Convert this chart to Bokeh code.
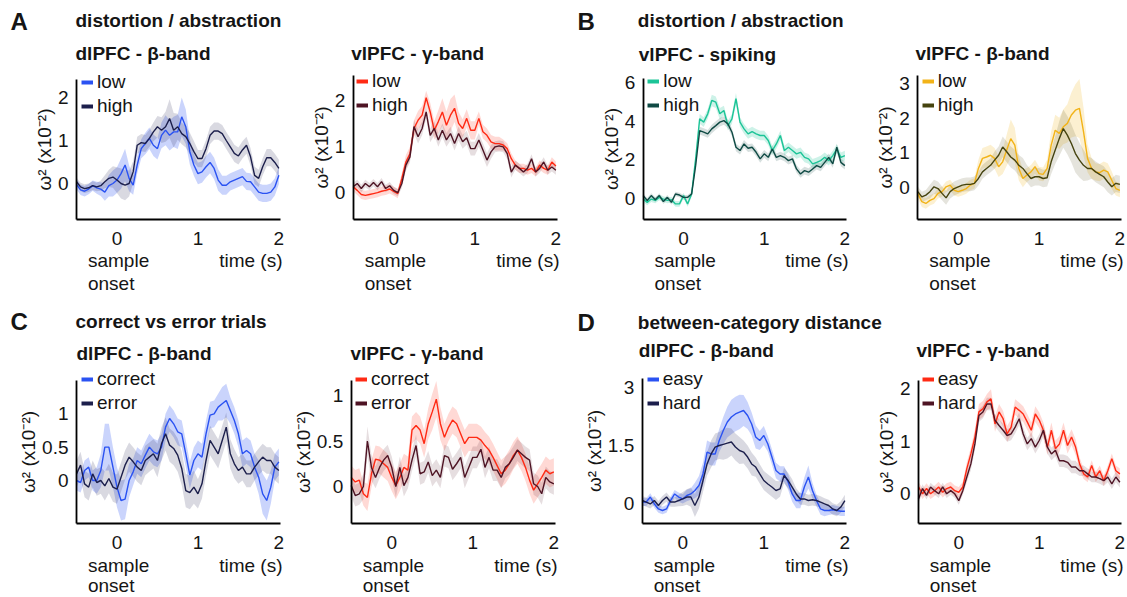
import numpy as np
from bokeh.plotting import figure
from bokeh.models import Range1d, FixedTicker, Label, Legend, LegendItem, ColumnDataSource
from bokeh.layouts import row, column
from bokeh.embed import file_html
from bokeh.resources import INLINE

FONT = "Liberation Sans"

# ---------------- data (time grid in s, omega^2 in units of 1e-2) ----------------
T = [round(-0.5 + 0.05 * i, 2) for i in range(51)]
XTICKS = [0, 1, 2]
XTICK_LABELS = ["0", "1", "2"]

A1_low = [-0.02, -0.15, -0.18, -0.13, -0.05, -0.10, -0.13, -0.20, -0.05, 0.00,
          0.08, 0.23, 0.43, 0.12, -0.04, 0.43, 0.81, 0.93, 1.05, 0.89,
          0.81, 1.12, 1.24, 1.12, 1.20, 1.20, 1.55, 1.32, 0.74, 0.43,
          0.23, 0.27, 0.39, 0.49, 0.35, 0.08, -0.04, -0.04, 0.04, 0.08,
          0.12, 0.16, 0.05, 0.04, -0.08, -0.20, -0.23, -0.23, -0.20, -0.08,
          0.19]
A1_low_err = [0.12, 0.12, 0.12, 0.12, 0.12, 0.14, 0.16, 0.20, 0.25, 0.30,
              0.30, 0.35, 0.38, 0.30, 0.22, 0.20, 0.22, 0.25, 0.25, 0.25,
              0.25, 0.30, 0.35, 0.35, 0.35, 0.40, 0.45, 0.40, 0.30, 0.25,
              0.25, 0.25, 0.25, 0.25, 0.25, 0.25, 0.22, 0.22, 0.20, 0.20,
              0.20, 0.20, 0.20, 0.20, 0.20, 0.20, 0.20, 0.20, 0.20, 0.20,
              0.20]
A1_high = [0.04, -0.08, -0.12, -0.10, -0.05, -0.08, -0.05, 0.04, 0.12, 0.15,
           0.08, 0.00, -0.04, 0.00, 0.27, 0.89, 0.95, 0.93, 1.05, 1.20,
           1.32, 1.24, 1.32, 1.51, 1.24, 1.32, 1.16, 1.09, 0.93, 0.74,
           0.58, 0.58, 0.81, 1.12, 1.22, 1.22, 1.16, 1.00, 0.85, 0.70,
           0.64, 0.78, 0.89, 0.62, 0.19, 0.12, 0.39, 0.60, 0.60, 0.49,
           0.35]
A1_high_err = [0.10, 0.10, 0.10, 0.10, 0.10, 0.10, 0.12, 0.15, 0.20, 0.25,
               0.30, 0.35, 0.35, 0.30, 0.25, 0.20, 0.20, 0.20, 0.20, 0.22,
               0.25, 0.30, 0.35, 0.45, 0.40, 0.30, 0.25, 0.25, 0.25, 0.25,
               0.20, 0.20, 0.20, 0.20, 0.20, 0.20, 0.20, 0.20, 0.20, 0.20,
               0.20, 0.20, 0.20, 0.20, 0.20, 0.20, 0.20, 0.20, 0.20, 0.20,
               0.20]

A2_low = [0.12, 0.04, -0.05, -0.07, -0.05, -0.03, -0.01, 0.02, 0.04, 0.07,
          0.02, -0.03, 0.30, 0.66, 0.84, 1.39, 1.57, 1.68, 2.06, 1.75,
          1.35, 1.54, 1.75, 1.46, 1.68, 1.83, 1.50, 1.39, 1.61, 1.35,
          1.35, 1.61, 1.32, 1.24, 1.10, 1.06, 1.06, 1.03, 0.95, 0.73,
          0.59, 0.52, 0.52, 0.48, 0.52, 0.44, 0.59, 0.52, 0.48, 0.66,
          0.57]
A2_low_err = [0.10, 0.10, 0.10, 0.10, 0.10, 0.10, 0.10, 0.10, 0.10, 0.10,
              0.10, 0.10, 0.12, 0.15, 0.15, 0.18, 0.20, 0.20, 0.15, 0.20,
              0.20, 0.25, 0.30, 0.30, 0.35, 0.30, 0.25, 0.20, 0.20, 0.20,
              0.20, 0.15, 0.15, 0.15, 0.15, 0.15, 0.15, 0.12, 0.12, 0.12,
              0.10, 0.10, 0.10, 0.10, 0.10, 0.10, 0.10, 0.10, 0.10, 0.10,
              0.10]
A2_high = [0.12, 0.19, 0.08, 0.19, 0.12, 0.21, 0.12, 0.23, 0.08, 0.14,
           0.04, -0.01, 0.19, 0.59, 0.77, 1.43, 1.21, 1.39, 1.75, 1.24,
           1.39, 1.14, 1.35, 1.14, 1.28, 1.06, 1.28, 1.10, 1.19, 0.95,
           0.95, 1.14, 0.92, 0.70, 0.88, 0.99, 1.01, 0.99, 0.84, 0.44,
           0.59, 0.52, 0.44, 0.52, 0.73, 0.44, 0.52, 0.66, 0.48, 0.55,
           0.48]
A2_high_err = [0.08, 0.08, 0.08, 0.08, 0.08, 0.08, 0.08, 0.08, 0.08, 0.08,
               0.08, 0.08, 0.10, 0.12, 0.12, 0.15, 0.15, 0.15, 0.15, 0.15,
               0.15, 0.15, 0.15, 0.15, 0.15, 0.15, 0.15, 0.15, 0.15, 0.15,
               0.15, 0.15, 0.15, 0.15, 0.15, 0.12, 0.12, 0.12, 0.12, 0.12,
               0.10, 0.10, 0.10, 0.10, 0.10, 0.10, 0.10, 0.10, 0.10, 0.10,
               0.10]

B1_low = [-0.03, -0.20, -0.03, -0.10, 0.06, -0.03, -0.10, -0.06, -0.28, -0.28,
          0.15, -0.28, 0.23, 2.05, 4.12, 3.95, 4.38, 5.07, 4.98, 4.38,
          4.55, 3.77, 4.12, 5.16, 3.95, 3.60, 3.34, 3.46, 3.34, 3.26,
          3.26, 3.00, 2.48, 2.82, 3.26, 2.48, 2.65, 2.48, 2.31, 2.39,
          2.13, 2.05, 1.79, 1.87, 1.96, 2.13, 1.96, 2.22, 2.56, 2.13,
          2.22]
B1_low_err = [0.15, 0.15, 0.15, 0.15, 0.15, 0.15, 0.15, 0.15, 0.15, 0.15,
              0.15, 0.15, 0.15, 0.20, 0.25, 0.25, 0.25, 0.30, 0.30, 0.30,
              0.25, 0.25, 0.25, 0.30, 0.25, 0.25, 0.25, 0.25, 0.25, 0.25,
              0.25, 0.25, 0.25, 0.25, 0.25, 0.25, 0.25, 0.25, 0.25, 0.25,
              0.25, 0.25, 0.25, 0.25, 0.25, 0.25, 0.25, 0.25, 0.25, 0.25,
              0.25]
B1_high = [0.15, -0.10, 0.15, -0.06, 0.15, -0.16, 0.06, -0.20, 0.23, 0.18,
           0.06, 0.06, 0.23, 1.70, 3.51, 3.43, 3.34, 3.60, 3.77, 3.95,
           4.03, 3.86, 3.43, 2.65, 2.48, 2.82, 2.60, 2.65, 2.39, 2.05,
           2.31, 2.13, 2.56, 2.13, 2.22, 2.13, 1.96, 2.05, 1.53, 1.27,
           1.44, 1.36, 1.53, 1.70, 1.61, 1.87, 2.13, 1.79, 2.65, 1.87,
           1.70]
B1_high_err = [0.12, 0.12, 0.12, 0.12, 0.12, 0.12, 0.12, 0.12, 0.12, 0.12,
               0.12, 0.12, 0.12, 0.18, 0.20, 0.20, 0.20, 0.22, 0.22, 0.22,
               0.22, 0.22, 0.20, 0.20, 0.20, 0.20, 0.20, 0.20, 0.20, 0.20,
               0.20, 0.20, 0.20, 0.20, 0.20, 0.20, 0.20, 0.20, 0.20, 0.20,
               0.20, 0.20, 0.20, 0.20, 0.20, 0.20, 0.20, 0.20, 0.20, 0.20,
               0.20]

B2_low = [-0.17, -0.41, -0.46, -0.37, -0.32, -0.17, -0.12, 0.02, 0.07, -0.08,
          -0.12, -0.08, -0.03, 0.07, 0.12, 0.55, 0.84, 0.88, 0.93, 0.84,
          0.60, 0.74, 1.08, 1.41, 1.22, 0.55, 0.26, 0.36, 0.45, 0.60,
          0.40, 0.38, 0.55, 1.22, 1.65, 1.56, 1.75, 1.85, 2.09, 2.23,
          2.28, 1.61, 0.84, 0.55, 0.45, 0.43, 0.50, 0.45, 0.21, -0.03,
          -0.08]
B2_low_err = [0.15, 0.15, 0.15, 0.15, 0.15, 0.15, 0.15, 0.15, 0.15, 0.15,
              0.15, 0.15, 0.15, 0.15, 0.15, 0.25, 0.30, 0.30, 0.30, 0.30,
              0.30, 0.35, 0.45, 0.55, 0.50, 0.35, 0.25, 0.20, 0.20, 0.20,
              0.20, 0.20, 0.25, 0.40, 0.45, 0.45, 0.50, 0.55, 0.65, 0.75,
              0.85, 0.70, 0.40, 0.30, 0.25, 0.25, 0.25, 0.25, 0.25, 0.20,
              0.20]
B2_high = [-0.12, -0.27, -0.22, -0.12, 0.02, -0.03, -0.17, -0.30, -0.12, -0.03,
           0.02, 0.07, 0.09, 0.09, 0.12, 0.26, 0.45, 0.55, 0.64, 0.79,
           0.93, 1.17, 1.03, 0.88, 0.79, 0.64, 0.55, 0.40, 0.26, 0.31,
           0.31, 0.26, 0.28, 0.74, 1.08, 1.41, 1.70, 1.51, 1.27, 0.98,
           0.79, 0.64, 0.55, 0.55, 0.45, 0.38, 0.31, 0.16, 0.02, 0.12,
           0.09]
B2_high_err = [0.15, 0.15, 0.15, 0.20, 0.20, 0.20, 0.20, 0.20, 0.20, 0.20,
               0.20, 0.20, 0.20, 0.20, 0.20, 0.20, 0.20, 0.20, 0.20, 0.25,
               0.25, 0.30, 0.30, 0.30, 0.30, 0.30, 0.30, 0.25, 0.25, 0.25,
               0.25, 0.25, 0.25, 0.35, 0.40, 0.50, 0.55, 0.55, 0.55, 0.55,
               0.50, 0.45, 0.35, 0.30, 0.30, 0.30, 0.30, 0.30, 0.25, 0.25,
               0.25]

C1_low = [0.00, -0.03, 0.15, 0.20, 0.00, 0.00, 0.15, 0.50, 0.50, 0.20,
          -0.10, -0.30, -0.28, 0.00, 0.13, 0.30, 0.25, 0.38, 0.50, 0.43,
          0.40, 0.50, 0.80, 0.93, 0.85, 0.73, 0.70, 0.40, 0.08, 0.30,
          0.40, 0.35, 0.70, 0.98, 1.00, 1.10, 1.15, 1.20, 1.05, 0.90,
          0.70, 0.40, 0.45, 0.40, 0.20, 0.05, -0.20, -0.30, -0.10, 0.20,
          0.28]
C1_low_err = [0.15, 0.15, 0.15, 0.15, 0.15, 0.20, 0.25, 0.35, 0.35, 0.30,
              0.30, 0.30, 0.30, 0.25, 0.20, 0.20, 0.20, 0.20, 0.20, 0.20,
              0.20, 0.20, 0.20, 0.20, 0.20, 0.20, 0.20, 0.20, 0.20, 0.20,
              0.20, 0.20, 0.20, 0.20, 0.20, 0.20, 0.25, 0.25, 0.20, 0.20,
              0.20, 0.20, 0.20, 0.20, 0.20, 0.25, 0.30, 0.30, 0.25, 0.20,
              0.20]
C1_high = [0.10, 0.23, -0.05, -0.10, 0.10, -0.03, 0.00, -0.08, 0.03, -0.10,
           -0.13, 0.05, 0.23, 0.35, 0.28, 0.20, 0.15, 0.30, 0.35, 0.40,
           0.30, 0.55, 0.70, 0.53, 0.48, 0.38, 0.18, -0.15, -0.18, -0.10,
           -0.20, -0.05, 0.30, 0.60, 0.50, 0.40, 0.60, 0.80, 0.40, 0.25,
           0.15, 0.20, 0.10, 0.10, 0.20, 0.28, 0.35, 0.30, 0.30, 0.20,
           0.15]
C1_high_err = [0.20, 0.20, 0.20, 0.20, 0.20, 0.20, 0.20, 0.22, 0.22, 0.22,
               0.22, 0.22, 0.22, 0.22, 0.22, 0.22, 0.22, 0.22, 0.22, 0.22,
               0.25, 0.25, 0.25, 0.25, 0.25, 0.25, 0.25, 0.25, 0.25, 0.25,
               0.22, 0.22, 0.22, 0.22, 0.22, 0.22, 0.22, 0.22, 0.22, 0.22,
               0.20, 0.20, 0.20, 0.20, 0.20, 0.20, 0.20, 0.20, 0.20, 0.20,
               0.20]

C2_low = [0.10, 0.05, 0.07, -0.08, -0.12, 0.14, 0.30, 0.29, 0.25, 0.21,
          0.10, 0.01, 0.10, 0.21, 0.18, 0.62, 0.67, 0.62, 0.47, 0.69,
          0.82, 0.96, 0.69, 0.54, 0.65, 0.73, 0.69, 0.58, 0.47, 0.54,
          0.54, 0.54, 0.51, 0.45, 0.40, 0.32, 0.23, 0.14, 0.18, 0.25,
          0.34, 0.40, 0.32, 0.21, 0.07, -0.04, 0.03, 0.10, 0.18, 0.14,
          0.16]
C2_low_err = [0.13, 0.13, 0.13, 0.13, 0.15, 0.15, 0.15, 0.15, 0.15, 0.15,
              0.15, 0.15, 0.15, 0.15, 0.15, 0.15, 0.15, 0.15, 0.15, 0.17,
              0.20, 0.20, 0.18, 0.15, 0.15, 0.15, 0.15, 0.15, 0.15, 0.15,
              0.15, 0.15, 0.15, 0.15, 0.15, 0.15, 0.15, 0.15, 0.15, 0.15,
              0.15, 0.15, 0.15, 0.15, 0.15, 0.15, 0.15, 0.15, 0.15, 0.15,
              0.15]
C2_high = [0.01, -0.10, -0.08, 0.00, 0.50, 0.21, 0.10, 0.21, 0.29, 0.34,
           0.21, 0.00, 0.21, 0.01, 0.10, 0.29, 0.45, 0.14, 0.16, 0.27,
           0.12, 0.18, 0.10, 0.34, 0.32, 0.19, 0.25, 0.32, 0.10, 0.21,
           0.32, 0.32, 0.41, 0.21, 0.32, 0.18, 0.18, 0.10, 0.21, 0.25,
           0.32, 0.40, 0.36, 0.32, 0.29, 0.03, 0.00, -0.08, 0.10, 0.05,
           0.03]
C2_high_err = [0.12, 0.12, 0.12, 0.14, 0.16, 0.14, 0.12, 0.12, 0.12, 0.12,
               0.12, 0.12, 0.12, 0.12, 0.12, 0.12, 0.12, 0.12, 0.12, 0.12,
               0.12, 0.12, 0.12, 0.12, 0.12, 0.12, 0.12, 0.12, 0.12, 0.12,
               0.12, 0.12, 0.12, 0.12, 0.12, 0.12, 0.12, 0.12, 0.12, 0.12,
               0.12, 0.12, 0.12, 0.12, 0.12, 0.12, 0.12, 0.12, 0.12, 0.12,
               0.12]

D1_low = [0.03, 0.03, 0.16, -0.02, -0.15, -0.19, -0.15, 0.07, 0.24, 0.16,
          0.11, 0.20, 0.24, 0.33, 0.46, 0.76, 1.33, 1.28, 1.28, 1.63,
          1.89, 2.11, 2.24, 2.32, 2.37, 2.41, 2.28, 2.06, 1.72, 1.63,
          1.76, 1.54, 1.20, 0.85, 0.76, 0.76, 0.55, 0.24, 0.07, 0.07,
          0.42, 0.68, 0.33, 0.07, -0.15, -0.19, -0.19, -0.17, -0.19, -0.21,
          -0.21]
D1_low_err = [0.10, 0.10, 0.10, 0.10, 0.10, 0.10, 0.10, 0.10, 0.10, 0.12,
              0.12, 0.15, 0.15, 0.20, 0.25, 0.30, 0.30, 0.30, 0.30, 0.30,
              0.35, 0.40, 0.45, 0.45, 0.45, 0.40, 0.35, 0.30, 0.30, 0.25,
              0.25, 0.20, 0.20, 0.20, 0.20, 0.20, 0.20, 0.20, 0.20, 0.20,
              0.25, 0.30, 0.20, 0.15, 0.15, 0.15, 0.12, 0.12, 0.12, 0.12,
              0.12]
D1_high = [0.07, 0.03, -0.02, 0.07, -0.06, 0.07, 0.16, 0.03, 0.03, 0.07,
           0.11, 0.16, 0.16, -0.06, 0.16, 0.59, 1.02, 1.28, 1.46, 1.50,
           1.53, 1.56, 1.59, 1.46, 1.37, 1.33, 1.20, 1.02, 0.94, 0.76,
           0.59, 0.50, 0.42, 0.33, 0.37, 0.72, 0.59, 0.42, 0.24, 0.11,
           0.11, 0.07, 0.09, 0.07, 0.03, -0.02, -0.06, -0.15, -0.19, -0.10,
           0.07]
D1_high_err = [0.12, 0.12, 0.12, 0.12, 0.12, 0.12, 0.12, 0.12, 0.12, 0.15,
               0.18, 0.20, 0.25, 0.30, 0.30, 0.30, 0.30, 0.35, 0.35, 0.35,
               0.40, 0.40, 0.35, 0.35, 0.35, 0.30, 0.30, 0.30, 0.25, 0.25,
               0.25, 0.25, 0.25, 0.25, 0.20, 0.20, 0.20, 0.20, 0.15, 0.15,
               0.15, 0.15, 0.15, 0.15, 0.15, 0.15, 0.15, 0.15, 0.15, 0.15,
               0.15]

D2_low = [0.13, 0.00, 0.10, 0.00, 0.06, 0.13, 0.03, 0.10, 0.13, 0.06,
          0.03, 0.13, 0.48, 0.76, 1.08, 1.56, 1.62, 1.75, 1.81, 1.33,
          1.56, 1.43, 1.14, 1.27, 1.65, 1.59, 1.52, 1.37, 1.21, 1.52,
          1.40, 1.21, 0.89, 1.21, 0.86, 0.95, 1.21, 0.92, 1.08, 0.89,
          0.57, 0.38, 0.32, 0.54, 0.32, 0.44, 0.25, 0.44, 0.67, 0.44,
          0.38]
D2_low_err = [0.10, 0.10, 0.10, 0.10, 0.10, 0.10, 0.10, 0.10, 0.10, 0.10,
              0.10, 0.10, 0.12, 0.12, 0.15, 0.15, 0.15, 0.15, 0.18, 0.15,
              0.15, 0.15, 0.15, 0.15, 0.15, 0.15, 0.15, 0.15, 0.15, 0.15,
              0.15, 0.15, 0.15, 0.15, 0.15, 0.15, 0.15, 0.15, 0.15, 0.15,
              0.12, 0.10, 0.10, 0.10, 0.10, 0.10, 0.10, 0.10, 0.10, 0.10,
              0.10]
D2_high = [-0.10, 0.10, -0.03, 0.13, 0.06, 0.00, 0.13, 0.00, 0.06, 0.00,
           -0.13, 0.06, 0.32, 0.57, 0.95, 1.49, 1.56, 1.71, 1.71, 1.40,
           1.30, 1.21, 1.11, 1.14, 1.27, 1.43, 1.14, 0.95, 1.05, 0.89,
           1.02, 1.21, 0.89, 0.76, 0.83, 0.63, 0.63, 0.60, 0.51, 0.51,
           0.44, 0.44, 0.38, 0.32, 0.32, 0.29, 0.25, 0.32, 0.19, 0.32,
           0.22]
D2_high_err = [0.08, 0.08, 0.08, 0.08, 0.08, 0.08, 0.08, 0.08, 0.08, 0.08,
               0.08, 0.08, 0.10, 0.12, 0.12, 0.12, 0.12, 0.12, 0.12, 0.12,
               0.12, 0.12, 0.12, 0.12, 0.12, 0.12, 0.12, 0.12, 0.12, 0.12,
               0.12, 0.12, 0.12, 0.12, 0.12, 0.12, 0.12, 0.12, 0.12, 0.12,
               0.10, 0.10, 0.10, 0.10, 0.10, 0.10, 0.10, 0.10, 0.10, 0.10,
               0.10]

YLABEL = "ω² (x10⁻²)"

# ---------------- colours ----------------
BLUE, NAVY = "#2a52f2", "#1c1f4c"
RED, MAROON = "#ff2a14", "#4e1424"
TEAL, DTEAL = "#1cc497", "#0f4a44"
GOLD, OLIVE = "#f2b318", "#45430f"

# ---------------- panel specs (geometry in page pixels) ----------------
# fig = (x0, y0, width, height); data = (left, top, right, bottom) of the axes box
# yref = (value0, pixel0, value1, pixel1) used to set the y scale
R2 = 366  # top of the second row of panels (a title strip sits above it)
PANELS = [
    dict(fig=(0, 0, 290, 300), data=(76, 79, 280, 219), yref=(0, 183, 2, 97),
         yticks=[0, 1, 2], ylabels=["0", "1", "2"],
         series=[("low", A1_low, A1_low_err, BLUE, 0.25), ("high", A1_high, A1_high_err, NAVY, 0.17)],
         texts=[("A", 10, 20.5, "24px"), ("distortion / abstraction", 75, 19.5, None),
                ("dlPFC - β-band", 75, 53, None)],
         leg=(81, 83), xl=(260, 283)),
    dict(fig=(290, 0, 276, 300), data=(352.7, 75, 557, 219), yref=(0, 191.7, 2, 100),
         yticks=[0, 1, 2], ylabels=["0", "1", "2"],
         series=[("low", A2_low, A2_low_err, RED, 0.18), ("high", A2_high, A2_high_err, MAROON, 0.14)],
         texts=[("vlPFC - γ-band", 350.7, 53, None)], leg=(356, 82.7), xl=(260, 283)),
    dict(fig=(566, 0, 286, 300), data=(642.7, 78, 846, 219), yref=(0, 198, 6, 82),
         yticks=[0, 2, 4, 6], ylabels=["0", "2", "4", "6"],
         series=[("low", B1_low, B1_low_err, TEAL, 0.22), ("high", B1_high, B1_high_err, DTEAL, 0.17)],
         texts=[("B", 577, 20.5, "24px"), ("distortion / abstraction", 637.3, 19.5, None),
                ("vlPFC - spiking", 638.3, 54, None)],
         leg=(647.3, 82.7), xl=(260, 283)),
    dict(fig=(852, 0, 275, 300), data=(917.3, 75, 1121, 219), yref=(0, 187, 3, 83),
         yticks=[0, 1, 2, 3], ylabels=["0", "1", "2", "3"],
         series=[("low", B2_low, B2_low_err, GOLD, 0.2), ("high", B2_high, B2_high_err, OLIVE, 0.14)],
         texts=[("vlPFC - β-band", 915, 53, None)], leg=(921.7, 82.7), xl=(260, 283)),
    dict(fig=(0, R2, 290, 597 - R2), data=(76, 380, 280, 523), yref=(0, 480, 1, 413.3),
         yticks=[0, 0.5, 1], ylabels=["0", "0.5", "1"],
         series=[("correct", C1_low, C1_low_err, BLUE, 0.25), ("error", C1_high, C1_high_err, NAVY, 0.17)],
         texts=[], leg=(81, 380), xl=(565, 585)),
    dict(fig=(290, R2, 276, 597 - R2), data=(350.7, 380, 555, 523), yref=(0, 486, 1, 395),
         yticks=[0, 0.5, 1], ylabels=["0", "0.5", "1"],
         series=[("correct", C2_low, C2_low_err, RED, 0.18), ("error", C2_high, C2_high_err, MAROON, 0.14)],
         texts=[], leg=(355, 380), xl=(565, 585)),
    dict(fig=(566, R2, 286, 597 - R2), data=(641.7, 378, 846, 523), yref=(0, 502.7, 3, 387.3),
         yticks=[0, 1.5, 3], ylabels=["0", "1.5", "3"],
         series=[("easy", D1_low, D1_low_err, BLUE, 0.25), ("hard", D1_high, D1_high_err, NAVY, 0.17)],
         texts=[], leg=(646.7, 380), xl=(565, 585)),
    dict(fig=(852, R2, 275, 597 - R2), data=(918, 380, 1121, 523), yref=(0, 493.3, 2, 388.3),
         yticks=[0, 1, 2], ylabels=["0", "1", "2"],
         series=[("easy", D2_low, D2_low_err, RED, 0.18), ("hard", D2_high, D2_high_err, MAROON, 0.14)],
         texts=[], leg=(921.7, 380), xl=(565, 585)),
]

# titles of the second row (drawn in a strip spanning the page width)
STRIP2 = dict(fig=(0, 300, 1127, R2 - 300),
              texts=[("C", 10, 321, "24px"), ("correct vs error trials", 75, 321, None),
                     ("dlPFC - β-band", 76, 353, None), ("vlPFC - γ-band", 350, 353.3, None),
                     ("D", 577, 321.5, "24px"), ("between-category distance", 637.3, 321.5, None),
                     ("dlPFC - β-band", 638.3, 350, None), ("vlPFC - γ-band", 916, 350, None)])

XMIN, XMAX = -0.5, 2.02
TXT = "#151515"
FS = "19px"


def add_text(p, fig, text, x, y_img, size, bold=False, align="left", x_units="screen", x_offset=0):
    fx, fy, fw, fh = fig
    xx = x - fx if x_units == "screen" else x
    p.add_layout(Label(x=xx, y=fy + fh - y_img, x_units=x_units, y_units="screen",
                       text=text, text_font=FONT, text_font_size=size,
                       text_font_style="bold" if bold else "normal",
                       text_align=align, text_baseline="middle", text_color=TXT,
                       x_offset=x_offset))


def add_titles(p, fig, texts):
    for s, x, y, size in texts:
        add_text(p, fig, s, x, y, size or FS, bold=True)


def make_strip(spec):
    fx, fy, fw, fh = spec["fig"]
    p = figure(width=fw, height=fh, x_range=Range1d(0, fw), y_range=Range1d(0, fh),
               output_backend="svg", toolbar_location=None, title_location=None,
               x_axis_location=None, y_axis_location=None,
               min_border_left=0, min_border_right=0, min_border_top=0, min_border_bottom=0)
    p.outline_line_color = None
    p.xgrid.visible = False
    p.ygrid.visible = False
    add_titles(p, spec["fig"], spec["texts"])
    return p


def make_panel(spec):
    fx, fy, fw, fh = spec["fig"]
    l, t, r, b = spec["data"]
    v0, p0, v1, p1 = spec["yref"]
    ppy = (p0 - p1) / (v1 - v0)
    ylo = v0 - (b - p0) / ppy
    yhi = v0 + (p0 - t) / ppy
    ppx = (r - l) / (XMAX - XMIN)
    # the frame fills the whole canvas; the axes are pinned at the data box
    xs = XMIN - (l - fx) / ppx
    xe = XMAX + (fx + fw - r) / ppx
    ys = ylo - (fy + fh - b) / ppy
    ye = yhi + (t - fy) / ppy

    p = figure(width=fw, height=fh, x_range=Range1d(xs, xe), y_range=Range1d(ys, ye),
               output_backend="svg", toolbar_location=None, title_location=None,
               min_border_left=0, min_border_right=0, min_border_top=0, min_border_bottom=0)
    p.outline_line_color = None
    p.grid.visible = False
    p.background_fill_color = "white"
    p.border_fill_color = "white"

    xa, ya = p.xaxis[0], p.yaxis[0]
    xa.ticker = FixedTicker(ticks=XTICKS)
    xa.major_label_overrides = {k: s for k, s in zip(XTICKS, XTICK_LABELS)}
    ya.ticker = FixedTicker(ticks=spec["yticks"])
    ya.major_label_overrides = {k: s for k, s in zip(spec["yticks"], spec["ylabels"])}
    xa.fixed_location = ylo
    xa.bounds = (XMIN, XMAX)
    ya.fixed_location = XMIN
    ya.bounds = (ylo, yhi)
    for ax in (xa, ya):
        ax.major_tick_line_color = None
        ax.minor_tick_line_color = None
        ax.major_tick_out = 0
        ax.major_tick_in = 0
        ax.minor_tick_out = 0
        ax.minor_tick_in = 0
        ax.axis_line_color = "black"
        ax.axis_line_width = 1.8
        ax.major_label_text_font = FONT
        ax.major_label_text_font_size = FS
        ax.major_label_text_color = TXT
    xa.major_label_standoff = 12
    ya.major_label_standoff = 8
    ya.axis_label = YLABEL
    ya.axis_label_text_font = FONT
    ya.axis_label_text_font_size = FS
    ya.axis_label_text_font_style = "normal"
    ya.axis_label_text_color = TXT
    ya.axis_label_standoff = 0

    # shaded error bands first, then the mean lines
    for name, m, e, c, a in spec["series"]:
        m = np.array(m)
        e = np.array(e)
        src = ColumnDataSource(dict(t=T, lo=m - e, hi=m + e))
        p.varea(x="t", y1="lo", y2="hi", source=src, fill_color=c, fill_alpha=a)
    items = []
    for name, m, e, c, a in spec["series"]:
        src = ColumnDataSource(dict(t=T, m=m))
        p.line(x="t", y="m", source=src, line_color=c, line_width=1.4)
        swatch = p.line(x=[float("nan")] * 2, y=[float("nan")] * 2, line_color=c, line_width=4)
        items.append(LegendItem(label=name, renderers=[swatch]))

    canvas_bottom = fy + fh
    lx, ly = spec["leg"]
    row_h, spacing = 21, 2
    leg_h = 2 * row_h + spacing
    legend = Legend(items=items,
                    location=(lx - fx, canvas_bottom - (ly - row_h / 2) - leg_h),
                    glyph_width=12, glyph_height=20, label_height=20, label_standoff=4,
                    spacing=spacing, padding=0, margin=0, border_line_color=None,
                    background_fill_alpha=0, label_text_font=FONT,
                    label_text_font_size=FS, label_text_color=TXT)
    p.add_layout(legend)

    add_titles(p, spec["fig"], spec["texts"])

    ys_, yo_ = spec["xl"]
    add_text(p, spec["fig"], "sample", 0, ys_, FS, x_units="data", x_offset=-29)
    add_text(p, spec["fig"], "onset", 0, yo_, FS, x_units="data", x_offset=-29)
    add_text(p, spec["fig"], "time (s)", XMAX, ys_, FS, align="right", x_units="data", x_offset=2)
    return p


figs = [make_panel(s) for s in PANELS]
strip2 = make_strip(STRIP2)
layout = column(row(*figs[:4], spacing=0), strip2, row(*figs[4:], spacing=0), spacing=0)

open("out.html", "w").write(file_html(layout, INLINE))
